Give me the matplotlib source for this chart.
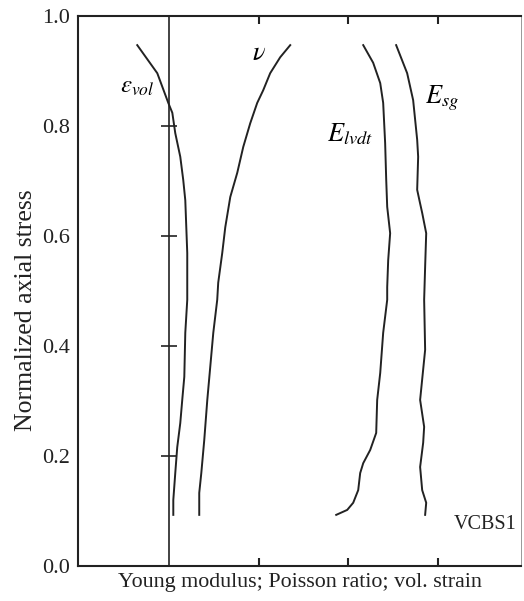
import matplotlib
matplotlib.use("Agg")
import matplotlib.pyplot as plt

plt.rcParams['font.family'] = ['Liberation Serif', 'DejaVu Serif']
plt.rcParams['mathtext.fontset'] = 'stix'

# Data (x: arbitrary units, y: normalized axial stress)
evol_x = [-0.358, -0.134, -0.011, 0.034, 0.067, 0.123, 0.156, 0.179, 0.201, 0.201,
          0.179, 0.168, 0.145, 0.123, 0.089, 0.067, 0.045, 0.045]
evol_y = [0.947, 0.896, 0.842, 0.824, 0.787, 0.744, 0.702, 0.665, 0.569, 0.484,
          0.424, 0.344, 0.302, 0.260, 0.216, 0.169, 0.120, 0.093]

nu_x = [1.352, 1.240, 1.128, 1.050, 0.983, 0.905, 0.827, 0.760, 0.682, 0.626,
        0.592, 0.547, 0.536, 0.492, 0.458, 0.425, 0.391, 0.358, 0.335, 0.335]
nu_y = [0.947, 0.925, 0.896, 0.865, 0.842, 0.805, 0.762, 0.715, 0.671, 0.616,
        0.569, 0.515, 0.484, 0.424, 0.362, 0.302, 0.229, 0.169, 0.133, 0.093]

elvdt_x = [2.168, 2.279, 2.358, 2.391, 2.413, 2.425, 2.436, 2.469, 2.447, 2.436,
           2.436, 2.391, 2.358, 2.324, 2.313, 2.246, 2.168, 2.134, 2.112, 2.056,
           1.989, 1.866]
elvdt_y = [0.947, 0.915, 0.878, 0.842, 0.769, 0.702, 0.653, 0.605, 0.556, 0.507,
           0.484, 0.424, 0.351, 0.302, 0.242, 0.211, 0.187, 0.169, 0.138, 0.115,
           0.102, 0.093]

esg_x = [2.536, 2.659, 2.726, 2.771, 2.782, 2.771, 2.800, 2.827, 2.872, 2.860, 2.849,
         2.860, 2.804, 2.849, 2.838, 2.804, 2.827, 2.872, 2.860]
esg_y = [0.947, 0.896, 0.847, 0.775, 0.744, 0.684, 0.662, 0.642, 0.605, 0.544, 0.484,
         0.393, 0.302, 0.253, 0.224, 0.180, 0.138, 0.115, 0.093]

y_ticks = [0.0, 0.2, 0.4, 0.6, 0.8, 1.0]
y_tick_labels = ['0.0', '0.2', '0.4', '0.6', '0.8', '1.0']
zero_line_ticks = [0.2, 0.4, 0.6, 0.8]
x_ticks = [1, 2, 3]

fig = plt.figure(figsize=(5.24, 6.01), dpi=100)
ax = fig.add_axes([0.1489, 0.0582, 0.8451, 0.9152])

xmin, xmax = -1.02, 3.93
ax.set_xlim(xmin, xmax)
ax.set_ylim(0, 1.0)

lw = 1.4
for xs, ys in [(evol_x, evol_y), (nu_x, nu_y), (elvdt_x, elvdt_y), (esg_x, esg_y)]:
    ax.plot(xs, ys, color='#222222', lw=lw)

for s in ['left', 'top', 'bottom']:
    ax.spines[s].set_linewidth(1.5)
    ax.spines[s].set_color('#222222')
ax.spines['right'].set_linewidth(0.6)
ax.spines['right'].set_color('#888888')

ax.set_yticks(y_ticks)
ax.set_yticklabels(y_tick_labels)
ax.tick_params(axis='y', length=0, pad=6, labelsize=16, labelcolor='#222222')
ax.set_xticks(x_ticks)
ax.tick_params(axis='x', direction='in', length=6, width=1.5, top=True,
               labelbottom=False, color='#222222')

# vertical zero line with its own ticks
loc = (0 - xmin) / (xmax - xmin)
sec = ax.secondary_yaxis(loc)
sec.set_yticks(zero_line_ticks)
sec.tick_params(direction='inout', length=12, width=1.2, labelleft=False,
                labelright=False, color='#222222')
sec.spines['left'].set_linewidth(1.2)
sec.spines['left'].set_color('#222222')

ax.set_xlabel('Young modulus; Poisson ratio; vol. strain', fontsize=15.8,
              labelpad=5, color='#222222')
ax.set_ylabel('Normalized axial stress', fontsize=18.5, color='#222222')
ax.yaxis.set_label_coords(-0.093, 0.465)

ax.text(-0.55, 0.87, r'$\varepsilon_{vol}$', fontsize=18, ha='left', va='center')
ax.text(0.92, 0.93, r'$\nu$', fontsize=19, ha='left', va='center')
ax.text(1.76, 0.785, r'$E_{lvdt}$', fontsize=19, ha='left', va='center')
ax.text(2.86, 0.85, r'$E_{sg}$', fontsize=19, ha='left', va='center')
ax.text(3.88, 0.075, 'VCBS1', fontsize=14.5, ha='right', va='center', color='#222222')

fig.savefig('out.png', dpi=100)
